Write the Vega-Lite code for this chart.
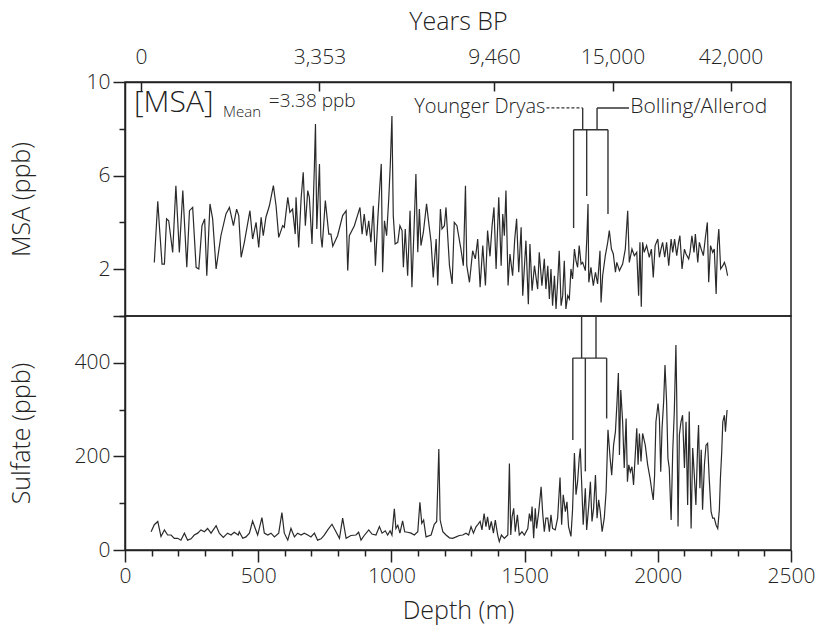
{
  "$schema": "https://vega.github.io/schema/vega-lite/v6.json",
  "background": "white",
  "padding": {"left": 8, "top": 8, "right": 10, "bottom": 10},
  "spacing": 0,
  "bounds": "flush",
  "config": {
    "view": {"stroke": "#222", "strokeWidth": 1.5},
    "font": "Open Sans",
    "axis": {
      "domainColor": "#222", "tickColor": "#222", "labelColor": "#222", "titleColor": "#222",
      "labelFont": "Open Sans", "titleFont": "Open Sans", "labelFontSize": 21, "titleFontSize": 25,
      "titleFontWeight": 300, "labelFontWeight": 300, "grid": false, "domainWidth": 1.5, "tickWidth": 1.5,
      "labelOverlap": false, "labelFlush": false, "labelBound": false
    }
  },
  "datasets": {
    "msa": [
      {"d":110,"v":2.29},{"d":123,"v":4.90},{"d":129,"v":3.86},{"d":139,"v":2.22},{"d":148,"v":2.22},{"d":156,"v":4.15},{"d":164,"v":4.07},{"d":179,"v":2.72},{"d":191,"v":5.57},{"d":204,"v":2.72},{"d":217,"v":5.36},{"d":232,"v":2.08},{"d":242,"v":4.50},{"d":254,"v":4.64},{"d":267,"v":2.08},{"d":277,"v":2.01},{"d":289,"v":3.86},{"d":299,"v":4.15},{"d":307,"v":1.72},{"d":319,"v":4.79},{"d":329,"v":4.15},{"d":342,"v":2.01},{"d":360,"v":3.43},{"d":379,"v":4.36},{"d":392,"v":4.64},{"d":407,"v":3.86},{"d":419,"v":4.57},{"d":427,"v":4.29},{"d":436,"v":2.51},{"d":448,"v":3.15},{"d":469,"v":4.50},{"d":479,"v":3.29},{"d":492,"v":4.00},{"d":502,"v":2.93},{"d":511,"v":4.22},{"d":519,"v":3.43},{"d":529,"v":4.22},{"d":542,"v":4.71},{"d":557,"v":5.57},{"d":567,"v":4.71},{"d":577,"v":3.36},{"d":592,"v":3.86},{"d":598,"v":3.79},{"d":611,"v":5.07},{"d":619,"v":4.43},{"d":629,"v":4.57},{"d":639,"v":3.50},{"d":642,"v":5.07},{"d":652,"v":2.93},{"d":661,"v":5.00},{"d":669,"v":6.14},{"d":677,"v":3.86},{"d":686,"v":5.36},{"d":692,"v":5.07},{"d":702,"v":3.08},{"d":711,"v":6.42},{"d":715,"v":8.2},{"d":720,"v":3.72},{"d":730,"v":6.5},{"d":735,"v":3.43},{"d":740,"v":2.93},{"d":752,"v":4.93},{"d":765,"v":3.50},{"d":773,"v":3.50},{"d":780,"v":2.98},{"d":798,"v":3.43},{"d":817,"v":4.29},{"d":830,"v":4.50},
      {"d":836,"v":1.94},{"d":842,"v":3.43},{"d":861,"v":3.86},{"d":882,"v":4.64},{"d":890,"v":3.50},{"d":898,"v":4.36},{"d":907,"v":3.43},{"d":915,"v":4.07},{"d":923,"v":3.15},{"d":932,"v":4.71},{"d":940,"v":2.15},{"d":949,"v":4.15},{"d":955,"v":5.28},{"d":962,"v":6.50},{"d":967,"v":1.87},{"d":974,"v":4.07},{"d":982,"v":3.43},{"d":990,"v":5.00},{"d":996,"v":6.50},{"d":1002,"v":8.55},{"d":1007,"v":4.29},{"d":1014,"v":3.08},{"d":1024,"v":3.15},{"d":1032,"v":3.86},{"d":1040,"v":3.65},{"d":1045,"v":2.08},{"d":1052,"v":3.72},{"d":1061,"v":1.72},{"d":1070,"v":4.50},{"d":1077,"v":1.23},{"d":1085,"v":3.72},{"d":1092,"v":6.07},{"d":1099,"v":2.72},{"d":1105,"v":4.57},{"d":1111,"v":3.01},{"d":1120,"v":3.58},{"d":1132,"v":4.79},{"d":1140,"v":4.00},{"d":1149,"v":3.15},{"d":1157,"v":1.65},{"d":1168,"v":3.29},{"d":1174,"v":1.30},{"d":1184,"v":4.57},{"d":1190,"v":3.72},{"d":1199,"v":3.86},{"d":1205,"v":4.64},{"d":1218,"v":2.15},{"d":1228,"v":1.37},{"d":1236,"v":4.00},{"d":1246,"v":3.86},{"d":1261,"v":2.86},{"d":1270,"v":2.15},{"d":1278,"v":5.57},{"d":1283,"v":2.15},{"d":1293,"v":1.44},{"d":1305,"v":2.79},{"d":1315,"v":2.44},{"d":1324,"v":3.29},{"d":1333,"v":1.23},{"d":1343,"v":3.01},{"d":1353,"v":1.30},{"d":1361,"v":3.65},{"d":1370,"v":2.55},{"d":1378,"v":3.86},{"d":1385,"v":4.64},{"d":1393,"v":2.01},{"d":1403,"v":5.07},{"d":1412,"v":2.15},{"d":1418,"v":4.36},{"d":1424,"v":3.43},{"d":1430,"v":5.36},{"d":1438,"v":1.30},{"d":1445,"v":2.65},{"d":1455,"v":1.72},{"d":1463,"v":3.29},{"d":1470,"v":4.15},{"d":1478,"v":1.87},{"d":1487,"v":3.79},{"d":1493,"v":0.87},{"d":1505,"v":3.22},{"d":1514,"v":0.5},{"d":1520,"v":3.08},{"d":1528,"v":1.08},{"d":1537,"v":2.15},{"d":1549,"v":1.15},{"d":1555,"v":2.72},{"d":1565,"v":1.30},{"d":1574,"v":2.44},{"d":1580,"v":1.15},
      {"d":1587,"v":2.15},{"d":1593,"v":0.73},{"d":1599,"v":2.01},{"d":1605,"v":0.44},{"d":1612,"v":1.72},{"d":1618,"v":0.3},{"d":1624,"v":1.44},{"d":1630,"v":2.79},{"d":1637,"v":0.44},{"d":1643,"v":0.87},{"d":1649,"v":2.36},{"d":1655,"v":0.3},{"d":1662,"v":0.87},{"d":1668,"v":0.73},{"d":1674,"v":2.01},{"d":1680,"v":1.58},{"d":1687,"v":2.86},{"d":1693,"v":2.36},{"d":1699,"v":2.08},{"d":1705,"v":3.01},{"d":1712,"v":2.22},{"d":1718,"v":2.29},{"d":1728,"v":1.94},{"d":1734,"v":3.43},{"d":1738,"v":4.79},{"d":1741,"v":1.44},{"d":1749,"v":2.08},{"d":1758,"v":1.30},{"d":1766,"v":1.87},{"d":1774,"v":1.37},{"d":1783,"v":2.79},{"d":1787,"v":0.58},{"d":1793,"v":1.72},{"d":1803,"v":2.58},{"d":1812,"v":3.15},{"d":1818,"v":3.65},{"d":1826,"v":2.86},{"d":1833,"v":2.65},{"d":1841,"v":1.87},{"d":1846,"v":2.29},{"d":1856,"v":1.94},{"d":1868,"v":2.22},{"d":1878,"v":2.86},{"d":1887,"v":4.50},{"d":1893,"v":2.29},{"d":1903,"v":2.86},{"d":1912,"v":2.58},{"d":1921,"v":2.72},{"d":1928,"v":0.87},{"d":1933,"v":3.15},{"d":1938,"v":0.4},{"d":1943,"v":3.15},{"d":1949,"v":2.72},{"d":1958,"v":3.01},{"d":1968,"v":2.51},{"d":1976,"v":2.86},{"d":1983,"v":1.65},{"d":1990,"v":3.01},{"d":2000,"v":3.29},{"d":2006,"v":2.51},{"d":2012,"v":2.86},{"d":2018,"v":3.15},{"d":2026,"v":2.51},{"d":2033,"v":3.15},{"d":2041,"v":2.15},{"d":2050,"v":3.29},{"d":2056,"v":2.72},{"d":2063,"v":3.29},{"d":2071,"v":2.58},{"d":2078,"v":3.15},{"d":2083,"v":3.43},{"d":2091,"v":2.01},{"d":2100,"v":2.86},{"d":2106,"v":2.65},{"d":2116,"v":2.44},{"d":2121,"v":2.72},{"d":2128,"v":3.43},{"d":2136,"v":2.72},{"d":2141,"v":3.50},{"d":2150,"v":2.29},{"d":2156,"v":3.15},{"d":2163,"v":2.86},{"d":2171,"v":2.58},{"d":2178,"v":3.29},{"d":2186,"v":4.00},{"d":2191,"v":1.44},{"d":2198,"v":3.01},{"d":2206,"v":2.72},{"d":2212,"v":2.86},{"d":2219,"v":0.94},{"d":2224,"v":3.01},{"d":2229,"v":3.72},{"d":2236,"v":2.01},{"d":2244,"v":2.15},{"d":2250,"v":2.29},{"d":2256,"v":2.08},{"d":2262,"v":1.72}
    ],
    "so4": [
      {"d":98,"v":39},{"d":110,"v":54},{"d":123,"v":61},{"d":135,"v":29},{"d":148,"v":43},{"d":160,"v":32},{"d":173,"v":32},{"d":185,"v":25},{"d":198,"v":25},{"d":210,"v":21},{"d":223,"v":36},{"d":235,"v":21},{"d":248,"v":24},{"d":260,"v":32},{"d":273,"v":36},{"d":285,"v":43},{"d":298,"v":39},{"d":310,"v":46},{"d":323,"v":36},{"d":342,"v":52},{"d":354,"v":36},{"d":369,"v":27},{"d":385,"v":36},{"d":398,"v":32},{"d":410,"v":38},{"d":425,"v":32},{"d":429,"v":39},{"d":442,"v":25},{"d":454,"v":28},{"d":467,"v":36},{"d":479,"v":62},{"d":489,"v":46},{"d":498,"v":32},{"d":514,"v":69},{"d":523,"v":36},{"d":536,"v":32},{"d":548,"v":36},{"d":561,"v":28},{"d":577,"v":36},{"d":589,"v":80},{"d":598,"v":36},{"d":611,"v":21},{"d":623,"v":46},{"d":636,"v":28},{"d":648,"v":36},{"d":661,"v":32},{"d":673,"v":36},{"d":686,"v":32},{"d":698,"v":28},{"d":711,"v":36},{"d":723,"v":21},{"d":736,"v":24},{"d":748,"v":32},{"d":761,"v":43},{"d":777,"v":55},{"d":792,"v":39},{"d":805,"v":25},{"d":817,"v":68},{"d":830,"v":25},
      {"d":848,"v":31},{"d":867,"v":32},{"d":877,"v":38},{"d":886,"v":21},{"d":898,"v":31},{"d":915,"v":43},{"d":927,"v":34},{"d":942,"v":32},{"d":955,"v":50},{"d":965,"v":36},{"d":977,"v":41},{"d":986,"v":32},{"d":995,"v":41},{"d":1002,"v":32},{"d":1011,"v":88},{"d":1017,"v":46},{"d":1024,"v":53},{"d":1032,"v":36},{"d":1042,"v":62},{"d":1050,"v":39},{"d":1061,"v":38},{"d":1074,"v":36},{"d":1086,"v":32},{"d":1099,"v":39},{"d":1107,"v":102},{"d":1114,"v":57},{"d":1121,"v":64},{"d":1130,"v":28},{"d":1149,"v":32},{"d":1161,"v":55},{"d":1170,"v":61},{"d":1178,"v":216},{"d":1183,"v":64},{"d":1193,"v":39},{"d":1205,"v":32},{"d":1218,"v":26},{"d":1230,"v":25},{"d":1243,"v":28},{"d":1255,"v":31},{"d":1268,"v":32},{"d":1280,"v":36},{"d":1290,"v":32},{"d":1299,"v":50},{"d":1308,"v":36},{"d":1318,"v":50},{"d":1325,"v":55},{"d":1333,"v":61},{"d":1340,"v":43},{"d":1348,"v":78},{"d":1355,"v":50},{"d":1361,"v":71},{"d":1368,"v":43},{"d":1375,"v":61},{"d":1383,"v":36},{"d":1390,"v":64},{"d":1399,"v":32},{"d":1405,"v":18},{"d":1413,"v":32},{"d":1424,"v":25},{"d":1437,"v":32},{"d":1443,"v":185},{"d":1448,"v":32},{"d":1453,"v":71},{"d":1459,"v":89},{"d":1465,"v":39},{"d":1473,"v":75},{"d":1480,"v":32},{"d":1490,"v":39},{"d":1499,"v":32},{"d":1512,"v":46},{"d":1518,"v":78},{"d":1524,"v":61},{"d":1528,"v":93},{"d":1534,"v":25},{"d":1540,"v":89},{"d":1545,"v":46},{"d":1553,"v":82},{"d":1562,"v":135},{"d":1568,"v":78},{"d":1574,"v":39},{"d":1580,"v":68},
      {"d":1587,"v":68},{"d":1593,"v":39},{"d":1599,"v":75},{"d":1605,"v":46},{"d":1615,"v":43},{"d":1624,"v":68},{"d":1633,"v":155},{"d":1639,"v":54},{"d":1645,"v":118},{"d":1653,"v":82},{"d":1659,"v":103},{"d":1665,"v":50},{"d":1674,"v":29},{"d":1680,"v":86},{"d":1687,"v":207},{"d":1693,"v":118},{"d":1699,"v":146},{"d":1705,"v":196},{"d":1709,"v":217},{"d":1714,"v":146},{"d":1720,"v":54},{"d":1728,"v":132},{"d":1733,"v":43},{"d":1741,"v":96},{"d":1747,"v":146},{"d":1753,"v":61},{"d":1759,"v":89},{"d":1766,"v":160},{"d":1772,"v":68},{"d":1778,"v":107},{"d":1784,"v":82},{"d":1791,"v":39},{"d":1799,"v":68},{"d":1806,"v":125},{"d":1813,"v":257},{"d":1821,"v":196},{"d":1827,"v":160},{"d":1834,"v":224},{"d":1841,"v":253},{"d":1847,"v":317},{"d":1852,"v":378},{"d":1856,"v":203},{"d":1861,"v":342},{"d":1868,"v":274},{"d":1874,"v":175},{"d":1881,"v":281},{"d":1886,"v":146},{"d":1891,"v":182},{"d":1897,"v":167},{"d":1903,"v":178},{"d":1909,"v":139},{"d":1916,"v":210},{"d":1921,"v":260},{"d":1926,"v":182},{"d":1931,"v":249},{"d":1937,"v":189},{"d":1943,"v":249},{"d":1953,"v":224},{"d":1962,"v":182},{"d":1971,"v":153},{"d":1978,"v":125},{"d":1983,"v":107},{"d":1988,"v":160},{"d":1993,"v":274},{"d":2001,"v":313},{"d":2006,"v":281},{"d":2011,"v":167},{"d":2016,"v":260},{"d":2022,"v":317},{"d":2027,"v":395},{"d":2033,"v":317},{"d":2038,"v":196},{"d":2043,"v":175},{"d":2050,"v":64},{"d":2056,"v":210},{"d":2062,"v":296},{"d":2068,"v":438},{"d":2071,"v":331},{"d":2076,"v":50},{"d":2081,"v":246},{"d":2087,"v":274},{"d":2093,"v":288},{"d":2100,"v":175},{"d":2106,"v":274},{"d":2112,"v":96},{"d":2118,"v":296},{"d":2125,"v":46},{"d":2131,"v":218},{"d":2137,"v":160},{"d":2143,"v":96},{"d":2150,"v":232},{"d":2153,"v":267},{"d":2158,"v":132},{"d":2163,"v":214},{"d":2168,"v":86},{"d":2175,"v":182},{"d":2181,"v":224},{"d":2187,"v":228},{"d":2193,"v":153},{"d":2200,"v":82},{"d":2206,"v":68},{"d":2212,"v":68},{"d":2219,"v":53},{"d":2225,"v":46},{"d":2231,"v":86},{"d":2235,"v":153},{"d":2240,"v":210},{"d":2244,"v":274},{"d":2250,"v":288},{"d":2254,"v":253},{"d":2260,"v":299}
    ]
  },
  "vconcat": [
    {
      "width": 666, "height": 234,
      "layer": [
        {
          "data": {"name": "msa"},
          "mark": {"type": "line", "color": "#2a2a2a", "strokeWidth": 1.2},
          "encoding": {
            "x": {"field": "d", "type": "quantitative", "scale": {"domain": [0, 2500], "nice": false},
              "axis": {"orient": "top", "title": "Years BP", "values": [60, 730, 1385, 1830, 2273],
                "labelExpr": "datum.value == 60 ? '0' : datum.value == 730 ? '3,353' : datum.value == 1385 ? '9,460' : datum.value == 1830 ? '15,000' : '42,000'",
                "tickSize": -9, "labelPadding": 24, "titlePadding": 12, "labelOverlap": false}},
            "y": {"field": "v", "type": "quantitative", "scale": {"domain": [0, 10], "nice": false},
              "axis": {"title": "MSA (ppb)", "values": [0,1,2,3,4,5,6,7,8,9,10],
                "labelExpr": "datum.value % 4 == 2 ? datum.label : ''",
                "tickSize": {"condition": {"test": "datum.value % 4 == 2 || datum.value == 0", "value": 12}, "value": 6},
                "labelPadding": 3, "titleX": -91, "labelOverlap": false}}
          }
        },
        {
          "data": {"values": [{"d": 1582, "d2": 1718, "v": 8.89, "v2": 8.89}]},
          "mark": {"type": "rule", "color": "#333", "strokeWidth": 1.2, "strokeDash": [3, 2]},
          "encoding": {"x": {"field": "d", "type": "quantitative"}, "x2": {"field": "d2"}, "y": {"field": "v", "type": "quantitative"}, "y2": {"field": "v2"}}
        },
        {
          "data": {"values": [
            {"d": 1718, "d2": 1718, "v": 8.89, "v2": 7.96},
            {"d": 1772, "d2": 1892, "v": 8.89, "v2": 8.89},
            {"d": 1772, "d2": 1772, "v": 8.89, "v2": 7.96},
            {"d": 1684, "d2": 1813, "v": 7.96, "v2": 7.96},
            {"d": 1684, "d2": 1684, "v": 7.96, "v2": 3.76},
            {"d": 1733, "d2": 1733, "v": 7.96, "v2": 5.13},
            {"d": 1813, "d2": 1813, "v": 7.96, "v2": 4.36}
          ]},
          "mark": {"type": "rule", "color": "#333", "strokeWidth": 1.4},
          "encoding": {"x": {"field": "d", "type": "quantitative"}, "x2": {"field": "d2"}, "y": {"field": "v", "type": "quantitative"}, "y2": {"field": "v2"}}
        },
        {
          "data": {"values": [{"d": 34, "v": 9.12, "t": "[MSA]"}]},
          "mark": {"type": "text", "align": "left", "baseline": "middle", "fontSize": 30, "font": "Open Sans", "fontWeight": 300, "color": "#222"},
          "encoding": {"x": {"field": "d", "type": "quantitative"}, "y": {"field": "v", "type": "quantitative"}, "text": {"field": "t"}}
        },
        {
          "data": {"values": [{"d": 368, "v": 8.72, "t": "Mean"}]},
          "mark": {"type": "text", "align": "left", "baseline": "middle", "fontSize": 15, "font": "Open Sans", "fontWeight": 300, "color": "#222"},
          "encoding": {"x": {"field": "d", "type": "quantitative"}, "y": {"field": "v", "type": "quantitative"}, "text": {"field": "t"}}
        },
        {
          "data": {"values": [{"d": 540, "v": 9.2, "t": "=3.38 ppb"}]},
          "mark": {"type": "text", "align": "left", "baseline": "middle", "fontSize": 19, "font": "Open Sans", "fontWeight": 300, "color": "#222"},
          "encoding": {"x": {"field": "d", "type": "quantitative"}, "y": {"field": "v", "type": "quantitative"}, "text": {"field": "t"}}
        },
        {
          "data": {"values": [{"d": 1578, "v": 8.93, "t": "Younger Dryas"}]},
          "mark": {"type": "text", "align": "right", "baseline": "middle", "fontSize": 20, "font": "Open Sans", "fontWeight": 300, "color": "#222"},
          "encoding": {"x": {"field": "d", "type": "quantitative"}, "y": {"field": "v", "type": "quantitative"}, "text": {"field": "t"}}
        },
        {
          "data": {"values": [{"d": 1897, "v": 8.93, "t": "Bolling/Allerod"}]},
          "mark": {"type": "text", "align": "left", "baseline": "middle", "fontSize": 21, "font": "Open Sans", "fontWeight": 300, "color": "#222"},
          "encoding": {"x": {"field": "d", "type": "quantitative"}, "y": {"field": "v", "type": "quantitative"}, "text": {"field": "t"}}
        }
      ]
    },
    {
      "width": 666, "height": 234,
      "resolve": {"axis": {"x": "independent"}},
      "layer": [
        {
          "data": {"name": "so4"},
          "mark": {"type": "line", "color": "#2a2a2a", "strokeWidth": 1.2},
          "encoding": {
            "x": {"field": "d", "type": "quantitative", "scale": {"domain": [0, 2500], "nice": false},
              "axis": {"orient": "bottom", "title": "Depth (m)", "format": "d", "values": [0, 500, 1000, 1500, 2000, 2500],
                "tickSize": 12, "labelPadding": 3, "titlePadding": 12, "labelOverlap": false}},
            "y": {"field": "v", "type": "quantitative", "scale": {"domain": [0, 500], "nice": false},
              "axis": {"title": "Sulfate (ppb)", "values": [0,50,100,150,200,250,300,350,400,450,500],
                "labelExpr": "datum.value % 200 == 0 ? datum.label : ''",
                "tickSize": {"condition": {"test": "datum.value % 200 == 0", "value": 12}, "value": 6},
                "labelPadding": 3, "titleX": -91, "labelOverlap": false}}
          }
        },
        {
          "data": {"values": [
            {"d": 1714, "d2": 1714, "v": 500, "v2": 410},
            {"d": 1768, "d2": 1768, "v": 500, "v2": 410},
            {"d": 1681, "d2": 1808, "v": 410, "v2": 410},
            {"d": 1681, "d2": 1681, "v": 410, "v2": 235},
            {"d": 1728, "d2": 1728, "v": 410, "v2": 168},
            {"d": 1808, "d2": 1808, "v": 410, "v2": 281}
          ]},
          "mark": {"type": "rule", "color": "#333", "strokeWidth": 1.4},
          "encoding": {
            "x": {"field": "d", "type": "quantitative",
              "axis": {"orient": "bottom", "title": null, "labels": false, "domain": false, "tickSize": 6,
                "values": [100,200,300,400,600,700,800,900,1100,1200,1300,1400,1600,1700,1800,1900,2100,2200,2300,2400]}},
            "x2": {"field": "d2"}, "y": {"field": "v", "type": "quantitative"}, "y2": {"field": "v2"}}
        }
      ]
    }
  ]
}
